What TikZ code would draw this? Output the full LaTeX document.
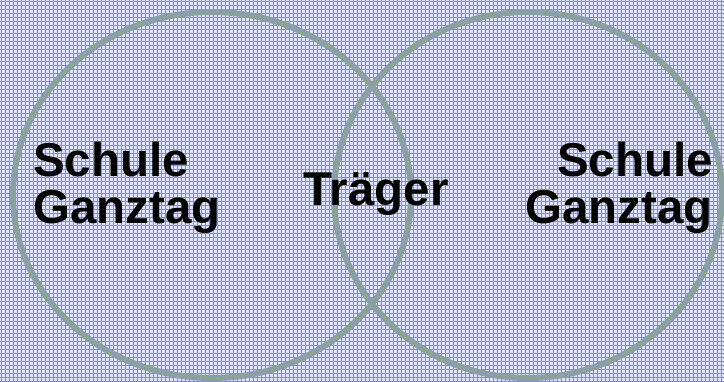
\documentclass[tikz,border=0pt]{standalone}
\usepackage{fontspec}
\setmainfont{Liberation Sans}
\usetikzlibrary{shapes.geometric}
\definecolor{bgfill}{RGB}{226,226,252}
\definecolor{gridblue}{RGB}{136,136,226}
\definecolor{ringgray}{RGB}{138,160,162}
\tikzset{
  ring/.style={ellipse, draw=ringgray, line width=6pt, inner sep=0pt},
  label/.style={inner sep=0pt, font=\bfseries\fontsize{47.5}{48}\selectfont, text=black},
  plaid/.style={draw=gridblue, line width=0.7pt},
}
\begin{document}
\begin{tikzpicture}[x=1pt,y=-1pt]
\useasboundingbox (0,0) rectangle (724,382);
\fill[bgfill] (0,0) rectangle (724,382);
\foreach \i in {0,4,...,724} { \draw[plaid] (\i+1.5,0) -- (\i+1.5,382); }
\foreach \j in {0,4,...,382} { \draw[plaid] (0,\j+1.5) -- (724,\j+1.5); }
\node[ring, minimum width=398pt, minimum height=366pt] (leftring) at (212,195) {};
\node[ring, minimum width=388pt, minimum height=366pt] (rightring) at (528,195) {};
\node[label, anchor=base west] (ls) at (33,177) {Schule};
\node[label, anchor=base west] (lg) at (33,224) {Ganztag};
\node[label, anchor=base] (tr) at (376,206) {Träger};
\node[label, anchor=base east] (rs) at (713,177) {Schule};
\node[label, anchor=base east] (rg) at (713,224) {Ganztag};
\end{tikzpicture}
\end{document}
